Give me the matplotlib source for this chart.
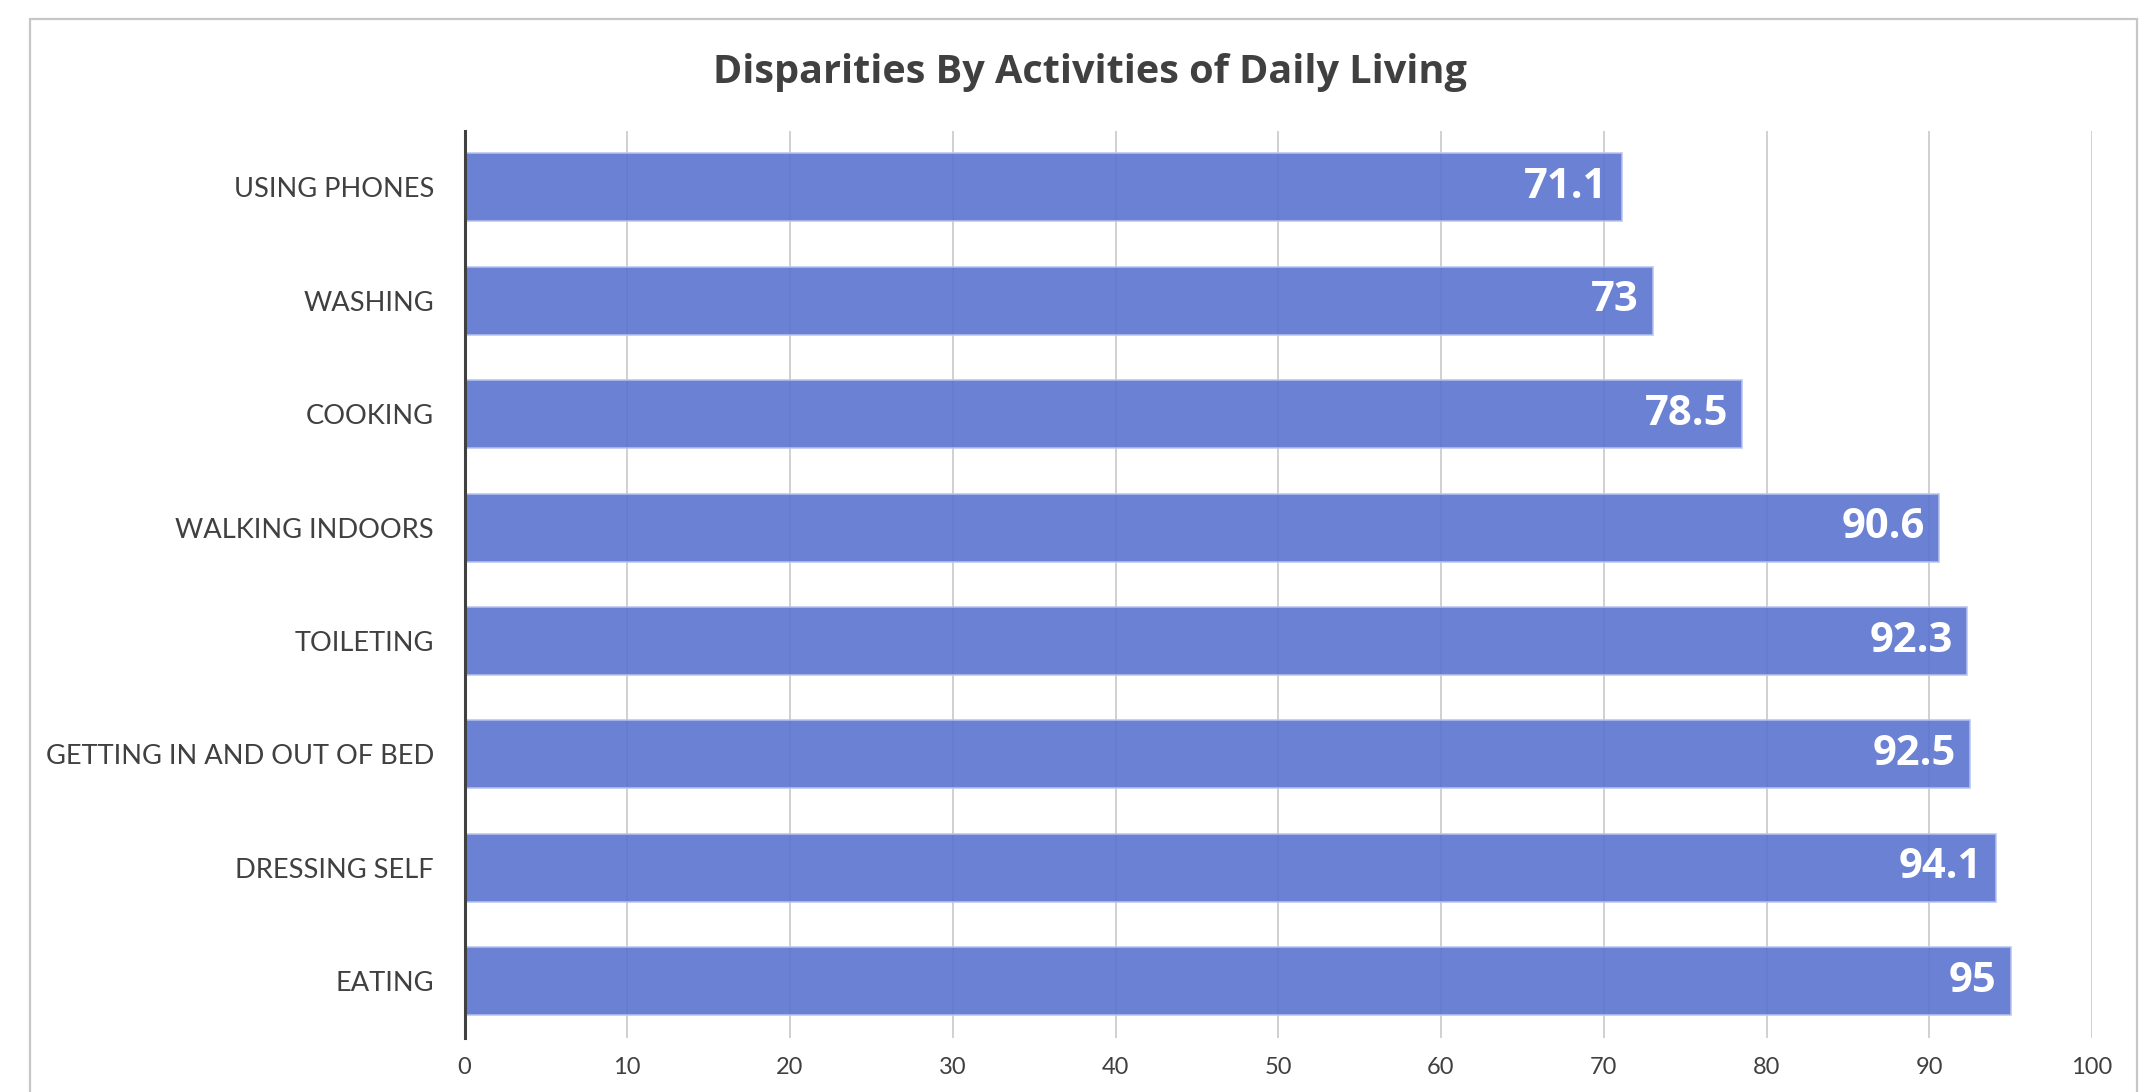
import matplotlib
matplotlib.use("Agg")
import matplotlib.pyplot as plt
from matplotlib.patches import Rectangle

categories = ["USING PHONES", "WASHING", "COOKING", "WALKING INDOORS", "TOILETING",
              "GETTING IN AND OUT OF BED", "DRESSING SELF", "EATING"]
values = [71.1, 73, 78.5, 90.6, 92.3, 92.5, 94.1, 95]
value_labels = ["71.1", "73", "78.5", "90.6", "92.3", "92.5", "94.1", "95"]
xticks = [0, 10, 20, 30, 40, 50, 60, 70, 80, 90, 100]
title = "Disparities By Activities of Daily Living"

W, H, DPI = 2155, 1092, 100
fig = plt.figure(figsize=(W / DPI, H / DPI), dpi=DPI)
fig.patch.set_facecolor("white")

# outer chart border
fig.add_artist(Rectangle((30 / W, -0.1), (2137 - 30) / W, 1 - 19 / H + 0.1,
                         transform=fig.transFigure, fill=False,
                         edgecolor="#C6C6C6", linewidth=1.6, clip_on=False))

ax = fig.add_axes([464.5 / W, 1 - 1038 / H, (2092 - 464.5) / W, (1038 - 130.6) / H])

ypos = list(range(len(categories)))
ax.set_xlim(0, 100)
ax.set_ylim(len(categories) - 0.5, -0.5)
ax.set_xticks(xticks)
ax.set_xticklabels([str(t) for t in xticks], family="Lato", fontsize=17, color="#404040")
ax.set_yticks(ypos)
ax.set_yticklabels(categories, family="Lato", fontsize=19.6, color="#404040")
ax.tick_params(axis="both", length=0)
ax.tick_params(axis="y", pad=22)
ax.tick_params(axis="x", pad=14)

ax.grid(axis="x", color="#C8C8C8", linewidth=1.2)
ax.set_axisbelow(True)
for s in ["top", "right", "bottom"]:
    ax.spines[s].set_visible(False)
ax.spines["left"].set_color("#404040")
ax.spines["left"].set_linewidth(2.2)
ax.spines["left"].set_zorder(5)

bars = ax.barh(ypos, values, height=0.6, color="#5B73CF", alpha=0.9,
               edgecolor="#B7C3EE", linewidth=1.2)

for y, v, lab in zip(ypos, values, value_labels):
    ax.annotate(lab, xy=(v, y), xytext=(-10, 0), textcoords="offset points",
                ha="right", va="center", color="white", fontsize=30,
                fontweight="bold", family="Open Sans")

fig.text(1090 / W, 1 - 72 / H, title, ha="center", va="center",
         fontsize=28.5, fontweight="bold", family="Open Sans", color="#404040")

fig.savefig("out.png", dpi=DPI)
